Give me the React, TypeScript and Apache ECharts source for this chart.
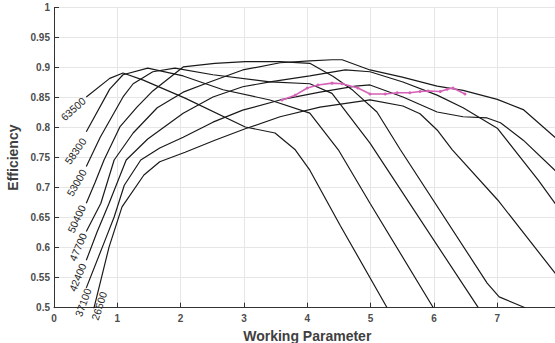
import React, { useEffect, useRef } from "react";
import * as echarts from "echarts";

const speedLabels = ["63500", "58300", "53000", "50400", "47700", "42400", "37100", "26500"];

const curve63500 = [[0.51, 0.851], [0.88, 0.882], [1.09, 0.891], [1.41, 0.879], [2.07, 0.849], [3.02, 0.801], [3.49, 0.791], [3.81, 0.763], [4.04, 0.729], [4.52, 0.637], [5.26, 0.5]];
const curve58300 = [[0.51, 0.793], [0.88, 0.864], [1.09, 0.888], [1.48, 0.899], [2.04, 0.886], [2.67, 0.863], [3.41, 0.846], [4.04, 0.824], [4.49, 0.763], [4.99, 0.674], [5.99, 0.5]];
const curve53000 = [[0.51, 0.735], [0.73, 0.784], [1.09, 0.851], [1.25, 0.873], [1.56, 0.893], [1.91, 0.899], [2.51, 0.888], [3.41, 0.876], [4.04, 0.873], [4.39, 0.857], [4.99, 0.774], [6.7, 0.5]];
const curve50400 = [[0.51, 0.674], [0.65, 0.709], [0.79, 0.746], [1.04, 0.801], [1.31, 0.834], [1.56, 0.861], [2.04, 0.901], [2.54, 0.907], [3.02, 0.91], [3.57, 0.91], [4.04, 0.907], [4.41, 0.885], [4.72, 0.862], [5.1, 0.826], [5.47, 0.763], [6.84, 0.541], [7.03, 0.518], [7.44, 0.5]];
const curve47700 = [[0.51, 0.627], [0.74, 0.674], [0.95, 0.746], [1.25, 0.791], [1.63, 0.833], [2.04, 0.859], [2.46, 0.876], [2.98, 0.896], [3.57, 0.908], [4.04, 0.911], [4.39, 0.913], [4.55, 0.913], [4.99, 0.896], [5.5, 0.884], [6.05, 0.869], [6.46, 0.862], [7.0, 0.847], [7.41, 0.83], [7.91, 0.784], [8.0, 0.776]];
const curve42400 = [[0.51, 0.579], [0.68, 0.626], [0.87, 0.674], [1.14, 0.746], [1.48, 0.781], [2.04, 0.824], [2.51, 0.851], [2.98, 0.868], [3.41, 0.876], [4.04, 0.886], [4.6, 0.896], [4.99, 0.893], [5.51, 0.876], [6.05, 0.854], [6.46, 0.833], [7.0, 0.799], [7.65, 0.712], [7.91, 0.674], [8.0, 0.663]];
const curve37100 = [[0.51, 0.533], [0.79, 0.608], [0.95, 0.651], [1.11, 0.704], [1.37, 0.746], [1.67, 0.766], [2.04, 0.784], [2.51, 0.809], [2.98, 0.829], [3.57, 0.846], [4.2, 0.859], [4.76, 0.869], [4.99, 0.871], [5.51, 0.851], [6.05, 0.826], [6.46, 0.818], [6.84, 0.816], [7.05, 0.808], [7.41, 0.779], [7.91, 0.729], [8.0, 0.72]];
const curve26500 = [[0.616, 0.493], [0.869, 0.601], [1.074, 0.668], [1.42, 0.721], [1.67, 0.743], [2.07, 0.759], [2.54, 0.779], [3.02, 0.798], [3.57, 0.818], [4.2, 0.834], [4.99, 0.846], [5.51, 0.836], [5.78, 0.823], [6.05, 0.796], [6.29, 0.763], [7.01, 0.679], [7.91, 0.558], [8.0, 0.546]];

const curves = [curve63500, curve58300, curve53000, curve50400, curve47700, curve42400, curve37100, curve26500];

const opX = [3.6, 3.81, 4.0, 4.17, 4.39, 4.55, 4.8, 4.99, 5.23, 5.42, 5.62, 5.78, 5.91, 6.1, 6.21, 6.3, 6.49];
const opY = [0.846, 0.854, 0.866, 0.871, 0.874, 0.873, 0.866, 0.856, 0.856, 0.858, 0.858, 0.86, 0.861, 0.86, 0.864, 0.866, 0.856];

// label layout: pixel offset from each curve's first point, and rotation in degrees
const labelLayout = [
  { dx: -12.9, dy: 12.3, angle: 42 },
  { dx: -10.9, dy: 19.2, angle: 55 },
  { dx: -9.4, dy: 16.3, angle: 60 },
  { dx: -9.4, dy: 15.8, angle: 65 },
  { dx: -8.4, dy: 15.5, angle: 67 },
  { dx: -8.4, dy: 17.2, angle: 68 },
  { dx: -3.4, dy: 14.6, angle: 70 },
  { dx: 6.5, dy: -5.9, angle: 72 },
];

const FONT = "'Liberation Sans', Arial, Helvetica, sans-serif";

export default function App() {
  const ref = useRef<HTMLDivElement>(null);
  useEffect(() => {
    const chart = echarts.init(ref.current!, null, { renderer: "svg" });
    const series: any[] = curves.map((c, i) => ({
      type: "line",
      name: speedLabels[i],
      data: c,
      showSymbol: false,
      symbol: "none",
      clip: true,
      lineStyle: { color: "#1a1a1a", width: 1.2 },
      z: 2,
    }));
    series.push({
      type: "line",
      name: "op",
      data: opX.map((x, i) => [x, opY[i]]),
      symbol: "circle",
      symbolSize: 3,
      lineStyle: { color: "#d562b6", width: 1.6 },
      itemStyle: { color: "#d562b6" },
      z: 3,
    });
    chart.setOption({
      animation: false,
      grid: { left: 54, right: -5.6, top: 7.5, bottom: 35.3, containLabel: false, outerBoundsMode: "none" },
      xAxis: {
        type: "value",
        min: 0,
        max: 8,
        interval: 1,
        name: "Working Parameter",
        nameLocation: "middle",
        nameGap: 12,
        nameTextStyle: { fontWeight: "bold", fontSize: 14, color: "#404040", fontFamily: FONT },
        axisLine: { show: true, onZero: false, lineStyle: { color: "#333333", width: 1 } },
        axisTick: { show: true, inside: true, length: 5, lineStyle: { color: "#333333" } },
        axisLabel: { color: "#4d4d4d", fontWeight: "bold", fontSize: 10, margin: 6, fontFamily: FONT, showMaxLabel: false },
        splitLine: { show: true, lineStyle: { color: "#e6e6e6", width: 1 } },
      },
      yAxis: {
        type: "value",
        min: 0.5,
        max: 1,
        interval: 0.05,
        name: "Efficiency",
        nameLocation: "middle",
        nameGap: 27,
        nameTextStyle: { fontWeight: "bold", fontSize: 14, color: "#404040", fontFamily: FONT },
        axisLine: { show: true, lineStyle: { color: "#333333", width: 1 } },
        axisTick: { show: true, inside: true, length: 5, lineStyle: { color: "#333333" } },
        axisLabel: { color: "#4d4d4d", fontWeight: "bold", fontSize: 10, margin: 4, fontFamily: FONT },
        splitLine: { show: true, lineStyle: { color: "#e6e6e6", width: 1 } },
      },
      series,
    });
    const graphics = curves.map((c, i) => {
      const p = chart.convertToPixel({ gridIndex: 0 }, c[0]) as number[];
      const l = labelLayout[i];
      return {
        type: "text",
        x: p[0] + l.dx,
        y: p[1] + l.dy,
        rotation: (l.angle * Math.PI) / 180,
        z: 100,
        style: {
          text: speedLabels[i],
          fontSize: 10.5,
          fontFamily: FONT,
          fill: "#262626",
          align: "center",
          verticalAlign: "middle",
        },
      };
    });
    chart.setOption({ graphic: graphics });
    return () => chart.dispose();
  }, []);
  return <div ref={ref} style={{ position: "absolute", left: 0, top: 0, width: 555, height: 343 }} />;
}
